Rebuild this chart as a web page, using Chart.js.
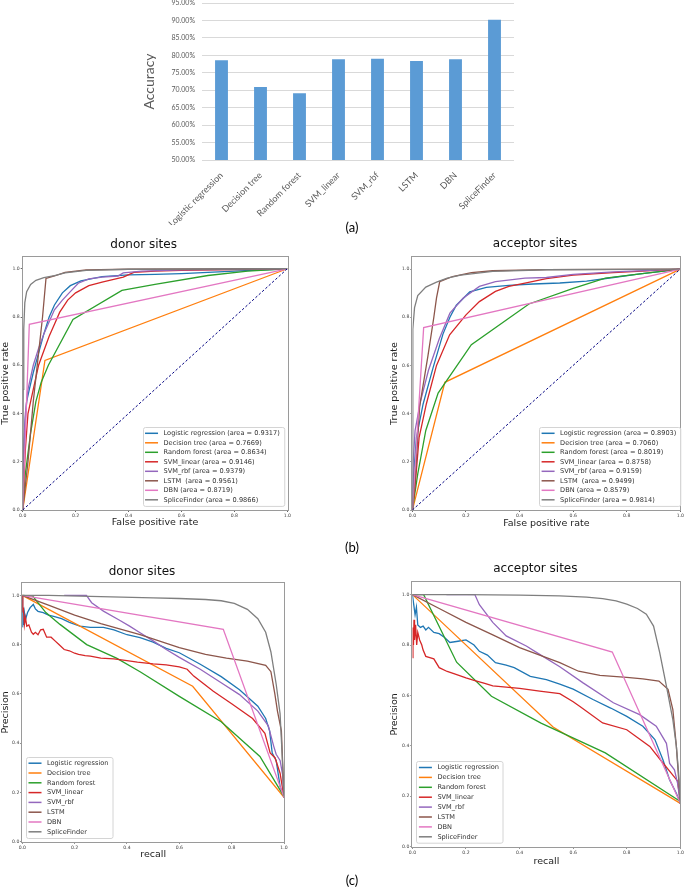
<!DOCTYPE html>
<html>
<head>
<meta charset="utf-8">
<script src="https://cdn.jsdelivr.net/npm/chart.js@4.4.1/dist/chart.umd.min.js"></script>
<style>
  body { margin: 0; background: #fff; width: 685px; height: 888px; position: relative; overflow: hidden; }
  .box { position: absolute; }
  .tag { position: absolute; font: 13px Lato, sans-serif; color: #000; transform: translate(-50%, -50%); }
</style>
</head>
<body>
<div class="box" style="left:100px;top:0;width:422px;height:225px"><canvas id="acc" width="422" height="225"></canvas></div>
<div class="box" style="left:0;top:230px;width:300px;height:305px"><canvas id="rocDonor" width="300" height="305"></canvas></div>
<div class="box" style="left:389px;top:230px;width:296px;height:305px"><canvas id="rocAcceptor" width="296" height="305"></canvas></div>
<div class="box" style="left:0;top:555px;width:300px;height:310px"><canvas id="prDonor" width="300" height="310"></canvas></div>
<div class="box" style="left:389px;top:550px;width:296px;height:320px"><canvas id="prAcceptor" width="296" height="320"></canvas></div>
<div class="tag" style="left:352px;top:227px">(a)</div>
<div class="tag" style="left:352px;top:547px">(b)</div>
<div class="tag" style="left:352px;top:880px">(c)</div>

<script>
// ---------- data ----------
const models = ["Logistic regression", "Decision tree", "Random forest", "SVM_linear", "SVM_rbf", "LSTM", "DBN", "SpliceFinder"];
const colors = ["#1f77b4", "#ff7f0e", "#2ca02c", "#d62728", "#9467bd", "#8c564b", "#e377c2", "#7f7f7f"];

// (a) accuracy, percent
const accuracy = [78.6, 70.9, 69.1, 78.9, 79.0, 78.4, 78.9, 90.2];
const accTicks = [50, 55, 60, 65, 70, 75, 80, 85, 90, 95];

const unitTicks = [0, 0.2, 0.4, 0.6, 0.8, 1.0];
const diagonal = [[0, 0], [1, 1]];

// (b) ROC areas
const rocDonorAuc = ["0.9317", "0.7669", "0.8634", "0.9146", "0.9379", "0.9561", "0.8719", "0.9866"];
const rocAcceptorAuc = ["0.8903", "0.7060", "0.8019", "0.8758", "0.9159", "0.9499", "0.8579", "0.9814"];

// (b) ROC donor curves [fpr, tpr], in model order
const rocDonor = [
  [[0,0],[0.003,0.15],[0.008,0.35],[0.015,0.45],[0.025,0.5],[0.04,0.57],[0.06,0.65],[0.08,0.73],[0.1,0.8],[0.12,0.85],[0.15,0.9],[0.18,0.93],[0.22,0.95],[0.3,0.967],[0.4,0.975],[0.5,0.977],[0.6,0.98],[0.8,0.99],[1,1]],
  [[0,0],[0.084,0.62],[1,1]],
  [[0,0],[0.01,0.15],[0.03,0.32],[0.05,0.45],[0.07,0.53],[0.097,0.6],[0.19,0.79],[0.375,0.91],[0.5,0.935],[0.7,0.972],[0.85,0.99],[1,1]],
  [[0,0],[0.01,0.25],[0.02,0.4],[0.04,0.5],[0.06,0.6],[0.08,0.66],[0.1,0.72],[0.12,0.77],[0.14,0.82],[0.17,0.87],[0.2,0.9],[0.25,0.93],[0.3,0.945],[0.36,0.96],[0.38,0.965],[0.42,0.985],[0.5,0.99],[0.6,0.993],[1,1]],
  [[0,0],[0.003,0.25],[0.01,0.4],[0.02,0.5],[0.04,0.6],[0.06,0.67],[0.08,0.73],[0.1,0.78],[0.12,0.83],[0.15,0.87],[0.18,0.905],[0.21,0.94],[0.25,0.958],[0.3,0.965],[0.36,0.97],[0.38,0.983],[0.45,0.99],[0.6,0.995],[1,1]],
  [[0,0],[0.02,0.2],[0.04,0.45],[0.06,0.65],[0.075,0.8],[0.088,0.96],[0.12,0.97],[0.16,0.985],[0.24,0.995],[0.4,0.998],[1,1]],
  [[0,0],[0.025,0.77],[1,1]],
  [[0,0],[0.002,0.5],[0.004,0.75],[0.008,0.86],[0.015,0.905],[0.03,0.935],[0.05,0.952],[0.08,0.963],[0.12,0.972],[0.16,0.983],[0.24,0.993],[0.4,0.998],[1,1]]
];

// (b) ROC acceptor curves
const rocAcceptor = [
  [[0,0],[0.005,0.15],[0.015,0.3],[0.04,0.44],[0.077,0.59],[0.114,0.73],[0.14,0.8],[0.164,0.85],[0.214,0.905],[0.276,0.924],[0.36,0.932],[0.45,0.938],[0.55,0.942],[0.65,0.95],[0.75,0.965],[0.85,0.98],[1,1]],
  [[0,0],[0.121,0.53],[1,1]],
  [[0,0],[0.02,0.15],[0.05,0.33],[0.096,0.485],[0.22,0.686],[0.435,0.855],[0.6,0.92],[0.72,0.962],[0.85,0.98],[1,1]],
  [[0,0],[0.01,0.1],[0.025,0.3],[0.052,0.44],[0.09,0.6],[0.139,0.727],[0.2,0.81],[0.25,0.865],[0.31,0.907],[0.36,0.928],[0.42,0.942],[0.5,0.96],[0.6,0.975],[0.75,0.985],[1,1]],
  [[0,0],[0.003,0.2],[0.01,0.33],[0.03,0.45],[0.06,0.58],[0.1,0.71],[0.14,0.817],[0.19,0.88],[0.25,0.928],[0.31,0.948],[0.42,0.962],[0.5,0.965],[0.6,0.978],[0.75,0.988],[1,1]],
  [[0,0],[0.01,0.12],[0.027,0.43],[0.058,0.64],[0.08,0.8],[0.09,0.88],[0.102,0.948],[0.15,0.969],[0.22,0.985],[0.3,0.993],[0.5,0.998],[1,1]],
  [[0,0],[0.042,0.757],[1,1]],
  [[0,0],[0.001,0.5],[0.002,0.75],[0.008,0.84],[0.02,0.89],[0.05,0.925],[0.09,0.946],[0.13,0.962],[0.18,0.975],[0.3,0.99],[0.5,0.997],[1,1]]
];

// (c) precision-recall donor curves [recall, precision]
const prDonor = [
  [[0,1],[0.001,0.87],[0.003,0.9],[0.005,0.88],[0.008,0.93],[0.012,0.9],[0.02,0.93],[0.03,0.95],[0.042,0.963],[0.05,0.945],[0.06,0.935],[0.08,0.93],[0.1,0.92],[0.12,0.915],[0.15,0.905],[0.18,0.89],[0.22,0.875],[0.26,0.87],[0.31,0.87],[0.35,0.86],[0.4,0.84],[0.45,0.828],[0.5,0.81],[0.55,0.785],[0.6,0.767],[0.68,0.72],[0.76,0.67],[0.83,0.617],[0.9,0.55],[0.93,0.5],[0.945,0.45],[0.955,0.36],[0.97,0.33],[0.985,0.225],[1,0.18]],
  [[0,1],[0.651,0.631],[1,0.18]],
  [[0,1],[0.04,0.997],[0.09,0.93],[0.144,0.882],[0.246,0.8],[0.36,0.745],[0.45,0.69],[0.6,0.59],[0.76,0.487],[0.908,0.346],[1,0.183]],
  [[0,1],[0.002,0.93],[0.004,0.95],[0.008,0.88],[0.012,0.91],[0.017,0.875],[0.025,0.88],[0.035,0.85],[0.042,0.842],[0.05,0.85],[0.06,0.84],[0.07,0.86],[0.08,0.862],[0.093,0.83],[0.11,0.83],[0.125,0.815],[0.14,0.8],[0.16,0.78],[0.18,0.775],[0.2,0.765],[0.215,0.76],[0.24,0.755],[0.26,0.753],[0.3,0.745],[0.35,0.742],[0.4,0.735],[0.44,0.729],[0.5,0.722],[0.55,0.718],[0.6,0.71],[0.63,0.7],[0.655,0.672],[0.73,0.611],[0.8,0.56],[0.88,0.5],[0.927,0.44],[0.947,0.36],[0.966,0.34],[0.985,0.278],[1,0.18]],
  [[0.16,1],[0.245,1],[0.265,0.97],[0.31,0.936],[0.37,0.9],[0.41,0.875],[0.45,0.848],[0.5,0.815],[0.55,0.78],[0.6,0.748],[0.68,0.7],[0.76,0.645],[0.83,0.597],[0.9,0.53],[0.94,0.47],[0.96,0.39],[0.97,0.355],[0.985,0.33],[0.995,0.27],[1,0.18]],
  [[0,1],[0.1,0.96],[0.2,0.92],[0.3,0.885],[0.45,0.84],[0.6,0.788],[0.7,0.76],[0.78,0.745],[0.86,0.733],[0.93,0.716],[0.95,0.69],[0.965,0.6],[0.975,0.53],[0.99,0.45],[1,0.18]],
  [[0,1],[0.768,0.862],[1,0.18]],
  [[0,1],[0.1,1],[0.3,0.995],[0.5,0.99],[0.6,0.987],[0.7,0.983],[0.76,0.978],[0.81,0.967],[0.86,0.943],[0.9,0.905],[0.93,0.85],[0.95,0.77],[0.97,0.64],[0.985,0.52],[0.993,0.35],[1,0.183]]
];

// (c) precision-recall acceptor curves
const prAcceptor = [
  [[0,1],[0.005,0.96],[0.01,0.92],[0.015,0.95],[0.02,0.88],[0.03,0.87],[0.04,0.875],[0.05,0.86],[0.06,0.87],[0.08,0.85],[0.1,0.845],[0.12,0.83],[0.14,0.81],[0.17,0.815],[0.2,0.82],[0.23,0.8],[0.25,0.775],[0.28,0.76],[0.31,0.73],[0.35,0.72],[0.38,0.71],[0.44,0.676],[0.5,0.663],[0.55,0.645],[0.6,0.625],[0.674,0.584],[0.74,0.55],[0.8,0.517],[0.86,0.478],[0.905,0.425],[0.935,0.345],[0.96,0.265],[0.985,0.212],[1,0.172]],
  [[0,1],[0.525,0.475],[1,0.172]],
  [[0,1],[0.042,1],[0.165,0.732],[0.295,0.597],[0.48,0.49],[0.72,0.372],[1,0.179]],
  [[0,0.75],[0.002,0.87],[0.004,0.8],[0.006,0.9],[0.008,0.82],[0.012,0.88],[0.016,0.8],[0.02,0.85],[0.027,0.82],[0.035,0.8],[0.04,0.78],[0.05,0.755],[0.065,0.75],[0.08,0.745],[0.1,0.71],[0.13,0.695],[0.16,0.685],[0.2,0.67],[0.23,0.66],[0.27,0.648],[0.3,0.638],[0.35,0.633],[0.4,0.628],[0.475,0.617],[0.55,0.607],[0.6,0.575],[0.624,0.557],[0.71,0.491],[0.8,0.464],[0.886,0.398],[0.935,0.332],[0.966,0.292],[0.99,0.26],[1,0.172]],
  [[0.127,1],[0.233,1],[0.25,0.96],[0.3,0.89],[0.35,0.836],[0.425,0.796],[0.475,0.763],[0.55,0.714],[0.637,0.65],[0.75,0.571],[0.848,0.524],[0.91,0.478],[0.948,0.41],[0.96,0.33],[0.978,0.305],[0.99,0.25],[1,0.172]],
  [[0,1],[0.1,0.945],[0.2,0.89],[0.3,0.84],[0.4,0.79],[0.5,0.75],[0.55,0.73],[0.62,0.696],[0.7,0.68],[0.8,0.672],[0.86,0.666],[0.92,0.657],[0.954,0.624],[0.972,0.544],[0.985,0.4],[0.995,0.25],[1,0.172]],
  [[0,1],[0.746,0.772],[1,0.172]],
  [[0,1],[0.2,1],[0.4,0.998],[0.55,0.995],[0.65,0.99],[0.71,0.984],[0.76,0.975],[0.8,0.962],[0.84,0.945],[0.873,0.922],[0.9,0.875],[0.923,0.77],[0.948,0.637],[0.972,0.504],[0.985,0.4],[0.993,0.3],[1,0.172]]
];

// ---------- plugins ----------
const frame = {
  id: "frame",
  afterDatasetsDraw(chart) {
    const { ctx, chartArea: a } = chart;
    ctx.save();
    ctx.strokeStyle = "#9a9a9a";
    ctx.lineWidth = 1;
    ctx.strokeRect(Math.round(a.left) - 0.5, Math.round(a.top) - 0.5, Math.round(a.right - a.left) + 1, Math.round(a.bottom - a.top) + 1);
    ctx.restore();
  }
};

const insetLegend = {
  id: "insetLegend",
  afterDatasetsDraw(chart, args, o) {
    if (!o.labels) return;
    const { ctx, chartArea: a } = chart;
    ctx.save();
    ctx.font = o.size + 'px "DejaVu Sans"';
    const textW = Math.max(...o.labels.map(t => ctx.measureText(t).width));
    const w = 21 + textW + 4;
    const h = 12.4 + (o.labels.length - 1) * o.row;
    const x = o.side === "right" ? a.right - o.dx - w : a.left + o.dx;
    const y = a.bottom - o.dy - h;
    ctx.fillStyle = "rgba(255,255,255,0.85)";
    ctx.strokeStyle = "#d4d4d4";
    ctx.lineWidth = 1;
    ctx.beginPath();
    ctx.roundRect(Math.round(x) + 0.5, Math.round(y) + 0.5, w, h, 2);
    ctx.fill();
    ctx.stroke();
    o.labels.forEach((t, i) => {
      const cy = y + 6.2 + i * o.row;
      ctx.strokeStyle = colors[i];
      ctx.lineWidth = 1.5;
      ctx.beginPath();
      ctx.moveTo(x + 2.5, cy);
      ctx.lineTo(x + 15.5, cy);
      ctx.stroke();
      ctx.fillStyle = "#333";
      ctx.textBaseline = "middle";
      ctx.fillText(t, x + 21, cy);
    });
    ctx.restore();
  }
};

// ---------- (a) accuracy bars ----------
new Chart(document.getElementById("acc"), {
  type: "bar",
  data: {
    labels: models,
    datasets: [{ data: accuracy, backgroundColor: "#5b9bd5", barPercentage: 0.33, categoryPercentage: 1 }]
  },
  options: {
    responsive: false,
    animation: false,
    events: [],
    layout: { padding: { right: 8, top: 3, bottom: 0 } },
    plugins: { legend: { display: false }, tooltip: { enabled: false } },
    scales: {
      x: {
        grid: { display: false },
        border: { display: false },
        ticks: { color: "#595959", font: { family: "Lato", size: 9 }, minRotation: 45, maxRotation: 45, padding: 2 },
        afterFit: s => { s.height = 65; s.paddingLeft = 0; s.paddingRight = 0; }
      },
      y: {
        min: 50, max: 95,
        afterBuildTicks: s => { s.ticks = accTicks.map(v => ({ value: v })); },
        ticks: { callback: v => v.toFixed(2) + "%", color: "#595959", font: { family: "Lato", size: 7 }, padding: 7 },
        grid: { color: "#d9d9d9", drawTicks: false },
        border: { display: false },
        title: { display: true, text: "Accuracy", color: "#595959", font: { family: "Lato", size: 14 }, padding: { top: 41, bottom: 0 } },
        afterFit: s => { s.width = 102; s.paddingTop = 0; s.paddingBottom = 0; }
      }
    }
  }
});

// ---------- (b), (c) curve charts ----------
const tickFont = { family: "DejaVu Sans", size: 4.6 };
const titleFont = { family: "DejaVu Sans", size: 9.5 };

function curveChart(id, c) {
  const datasets = c.curves.map((pts, i) => ({
    data: pts.map(p => ({ x: p[0], y: p[1] })),
    borderColor: colors[i],
    borderWidth: 1.3,
    pointRadius: 0,
    showLine: true,
    order: 8 - i
  }));
  if (c.diag) {
    datasets.push({
      data: diagonal.map(p => ({ x: p[0], y: p[1] })),
      borderColor: "#000080", borderWidth: 1, borderDash: [2.5, 2],
      pointRadius: 0, showLine: true, order: 0
    });
  }
  const axisGrid = { drawOnChartArea: false, drawTicks: true, tickLength: 2, color: "#666" };
  new Chart(document.getElementById(id), {
    type: "scatter",
    data: { datasets },
    options: {
      responsive: false,
      animation: false,
      events: [],
      layout: { padding: { right: c.padR } },
      plugins: {
        legend: { display: false },
        tooltip: { enabled: false },
        title: {
          display: true, text: c.title, color: "#111",
          font: { family: "DejaVu Sans", size: 12, weight: "normal" },
          padding: { top: c.tTop, bottom: c.tBot }
        },
        insetLegend: { labels: c.labels, side: c.side, dx: c.dx, dy: c.dy, row: c.row, size: 6.6 }
      },
      scales: {
        x: {
          type: "linear", min: 0, max: 1,
          afterBuildTicks: s => { s.ticks = unitTicks.map(v => ({ value: v })); },
          ticks: { callback: v => v.toFixed(1), color: "#444", font: tickFont, padding: 1, maxRotation: 0 },
          grid: axisGrid,
          border: { display: false },
          title: { display: true, text: c.xTitle, color: "#222", font: titleFont, padding: { top: 0, bottom: c.xtB } },
          afterFit: s => { s.height = c.xH; }
        },
        y: {
          type: "linear", min: 0, max: 1.05,
          afterBuildTicks: s => { s.ticks = unitTicks.map(v => ({ value: v })); },
          ticks: { callback: v => v.toFixed(1), color: "#444", font: tickFont, padding: 1 },
          grid: axisGrid,
          border: { display: false },
          title: { display: true, text: c.yTitle, color: "#222", font: titleFont, padding: 0 },
          afterFit: s => { s.width = c.yW; }
        }
      }
    },
    plugins: [frame, insetLegend]
  });
}

curveChart("rocDonor", {
  curves: rocDonor, diag: true, title: "donor sites",
  xTitle: "False positive rate", yTitle: "True positive rate",
  labels: models.map((m, i) => m + (m === "LSTM" ? "  " : " ") + "(area = " + rocDonorAuc[i] + ")"),
  side: "right", dx: 3.5, dy: 4, row: 9.5,
  padR: 12.7, tTop: 7.8, tBot: 4.5, xH: 25, xtB: 6.3, yW: 22.7
});

curveChart("rocAcceptor", {
  curves: rocAcceptor, diag: true, title: "acceptor sites",
  xTitle: "False positive rate", yTitle: "True positive rate",
  labels: models.map((m, i) => m + (m === "LSTM" ? "  " : " ") + "(area = " + rocAcceptorAuc[i] + ")"),
  side: "right", dx: 0, dy: 4, row: 9.5,
  padR: 4, tTop: 6.8, tBot: 5.8, xH: 25, xtB: 5.3, yW: 23.4
});

curveChart("prDonor", {
  curves: prDonor, diag: false, title: "donor sites",
  xTitle: "recall", yTitle: "Precision",
  labels: models,
  side: "left", dx: 3.7, dy: 3.7, row: 9.8,
  padR: 16, tTop: 9.8, tBot: 3.8, xH: 23.3, xtB: 4.3, yW: 22.3
});

curveChart("prAcceptor", {
  curves: prAcceptor, diag: false, title: "acceptor sites",
  xTitle: "recall", yTitle: "Precision",
  labels: models,
  side: "left", dx: 4, dy: 3.7, row: 9.9,
  padR: 3.3, tTop: 11.8, tBot: 5.8, xH: 23.3, xtB: 2.6, yW: 23.4
});
</script>
</body>
</html>
